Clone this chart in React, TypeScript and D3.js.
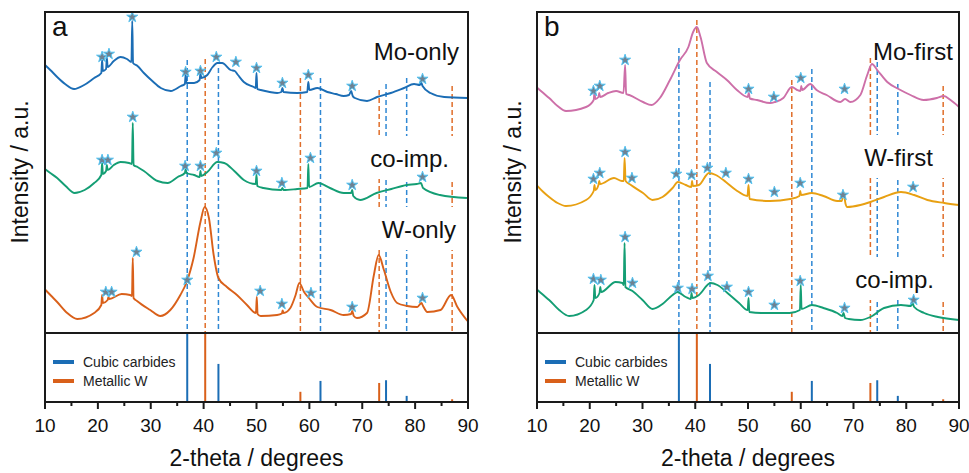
import React from 'react';
import * as d3 from 'd3';

type Pt = [number, number];

// ---------- Data (2-theta in degrees, intensity in a.u. with stacking offset) ----------
const moOnly: Pt[] = [
  [10.0, 268], [11.0, 263], [12.3, 256], [13.8, 249], [15.5, 244], [17.4, 248], [19.3, 255], [20.65, 260], [20.8, 273], [20.95, 262],
  [21.55, 264], [21.7, 275], [21.85, 266], [23.0, 272], [24.3, 276], [25.5, 274], [26.35, 271], [26.5, 312],
  [26.65, 270], [27.5, 267], [28.7, 260], [30.3, 252], [31.9, 245], [33.8, 242], [35.7, 247], [36.45, 249],
  [36.6, 258], [36.75, 250], [38.2, 250], [39.25, 253], [39.4, 260], [39.55, 255], [40.7, 258], [41.7, 266],
  [42.6, 270], [43.5, 270], [45.1, 263], [45.9, 262], [46.5, 258], [47.6, 251], [49.5, 246], [49.85, 245],
  [50.0, 260], [50.15, 244], [50.8, 243], [52.5, 241], [53.9, 240], [54.7, 241], [54.9, 245], [55.1, 241],
  [57.7, 240], [59.6, 241], [59.8, 251], [60.0, 243], [61.5, 245], [63.4, 241], [65.0, 239], [66.5, 237],
  [67.5, 238], [67.9, 242], [68.2, 237], [68.6, 235], [70.9, 232], [72.8, 236], [75.4, 240], [77.9, 245],
  [79.8, 249], [80.9, 248], [81.1, 251], [81.4, 247], [82.9, 240], [85.5, 236], [89.9, 235],
];
const coImpA: Pt[] = [
  [10.0, 164], [11.0, 160], [12.3, 155], [13.9, 147], [15.6, 140], [17.5, 143], [19.3, 150], [20.65, 158], [20.8, 170], [20.95, 159],
  [21.55, 162], [21.7, 168], [21.85, 163], [23.0, 168], [24.3, 171], [25.9, 170], [26.45, 169], [26.6, 210],
  [26.75, 168], [27.5, 166], [28.7, 162], [31.3, 152], [33.2, 150], [35.1, 156], [36.45, 160], [36.6, 164],
  [36.75, 160], [38.2, 158], [39.25, 156], [39.4, 162], [39.55, 157], [40.7, 161], [42.6, 171], [43.9, 170],
  [45.8, 162], [47.6, 153], [49.85, 149], [50.0, 158], [50.15, 147], [51.3, 145], [54.7, 143], [54.9, 145],
  [55.1, 143], [57.7, 144], [59.65, 145], [59.8, 169], [59.95, 146], [61.7, 150], [63.9, 145], [66.5, 140],
  [67.9, 140], [68.1, 143], [68.3, 137], [69.6, 133], [72.7, 140], [75.5, 144], [78.4, 148], [80.3, 149],
  [81.1, 150], [81.5, 145], [84.7, 138], [89.8, 135],
];
const wOnly: Pt[] = [
  [10.1, 43], [11.2, 37], [12.3, 31], [14.2, 20], [16.1, 14], [19.3, 20], [20.65, 28], [20.8, 38], [20.95, 30], [21.85, 33],
  [22.0, 36], [22.15, 34], [24.5, 39], [26.1, 38], [26.45, 37], [26.6, 75], [26.75, 35], [27.4, 32],
  [29.9, 23], [31.8, 17], [33.7, 23], [35.6, 38], [36.8, 51], [38.1, 75], [39.4, 111], [40.2, 126],
  [41.0, 115], [41.9, 78], [42.8, 55], [44.4, 46], [46.3, 38], [48.2, 28], [49.9, 20], [50.05, 36],
  [50.2, 19], [50.8, 17], [53.9, 18], [54.8, 19.5], [54.95, 22.5], [55.1, 20], [56.4, 25], [57.4, 38],
  [58.1, 50], [59.0, 41], [59.9, 35], [61.5, 26], [64.0, 23], [66.5, 18], [67.9, 19], [68.1, 22],
  [68.4, 17], [69.0, 15], [70.9, 20], [72.2, 58], [73.1, 78], [74.1, 63], [75.4, 41], [76.6, 30],
  [78.5, 27], [80.4, 26], [81.2, 30], [81.5, 27], [82.3, 21], [84.8, 23], [86.8, 38], [88.0, 26], [89.9, 12],
];
const moFirst: Pt[] = [
  [10.1, 245], [11.2, 240], [12.3, 235], [13.9, 227], [15.5, 222], [19.3, 226], [20.75, 233], [20.9, 241], [21.05, 234], [21.65, 236],
  [21.8, 240], [21.95, 236], [23.5, 240], [25.0, 242], [26.4, 240], [26.7, 268], [26.9, 239], [27.5, 238],
  [30.1, 231], [31.7, 228], [33.3, 235], [35.2, 253], [37.1, 273], [38.7, 286], [39.6, 301], [40.3, 306],
  [41.0, 296], [42.2, 270], [44.1, 261], [46.0, 253], [47.9, 243], [49.95, 236], [50.15, 240], [50.35, 234.5],
  [51.7, 233], [54.2, 230], [55.1, 231], [56.7, 235], [58.3, 246], [59.3, 243], [59.95, 242], [60.1, 247],
  [60.25, 243], [61.8, 249], [63.0, 243], [64.9, 238], [67.5, 231], [68.4, 234], [69.4, 231], [71.3, 238],
  [72.6, 258], [73.5, 269], [74.5, 263], [76.4, 251], [78.9, 243], [80.8, 238], [83.3, 233], [85.8, 235],
  [87.1, 237], [88.4, 233], [90.0, 226],
];
const wFirst: Pt[] = [
  [10.1, 147], [11.2, 141], [12.3, 136], [13.9, 130], [15.5, 127], [19.3, 133], [20.75, 142], [20.9, 148], [21.05, 143], [21.65, 148],
  [21.8, 152], [21.95, 149], [24.6, 155], [26.1, 152], [26.45, 152], [26.6, 175], [26.8, 152], [27.8, 148],
  [30.1, 140], [31.9, 133], [33.8, 136], [35.7, 145], [36.7, 151], [38.2, 148], [39.25, 146], [39.4, 152],
  [39.55, 147], [40.7, 148], [42.6, 160], [43.9, 158], [45.8, 151], [47.7, 143], [49.9, 137], [50.1, 148],
  [50.3, 134], [54.2, 132], [58.0, 134], [59.75, 137], [59.9, 142], [60.05, 138], [62.1, 140], [64.3, 137],
  [66.9, 132], [67.8, 132], [68.1, 141], [68.5, 129], [68.8, 126], [71.3, 128], [73.2, 131], [75.8, 136],
  [79.0, 141], [81.5, 138], [84.0, 133], [87.2, 130], [90.0, 128],
];
const coImpB: Pt[] = [
  [10.1, 43], [11.2, 38], [12.3, 33], [14.2, 23], [16.1, 17], [19.3, 23], [20.75, 33], [20.9, 48], [21.05, 35], [21.85, 40],
  [22.0, 46], [22.15, 41], [24.9, 51], [26.2, 50], [26.45, 48], [26.6, 90], [26.75, 46], [28.1, 42],
  [30.0, 33], [31.9, 24], [33.8, 29], [35.7, 38], [36.6, 41], [38.2, 36], [39.15, 34], [39.3, 40],
  [39.45, 35], [40.7, 38], [42.9, 50], [44.2, 48], [46.1, 40], [48.3, 30], [49.95, 23], [50.1, 35],
  [50.25, 21], [52.5, 20], [55.1, 20], [57.9, 20], [59.85, 23], [60.0, 48], [60.15, 24], [62.1, 28],
  [64.3, 25], [66.9, 20], [67.9, 17], [68.1, 20], [68.4, 15], [69.1, 14], [71.3, 13], [73.2, 16],
  [75.8, 25], [79.0, 28], [80.9, 27], [81.2, 29.5], [81.5, 26], [83.4, 20], [86.0, 16], [90.0, 13],
];

// Star markers (impurity reflections)
const moOnlyStars: Pt[] = [[20.8, 276], [22.1, 279], [26.5, 316], [36.6, 261], [39.4, 262], [42.4, 276], [46.1, 271], [50.0, 265], [54.9, 250], [59.8, 258], [68.1, 247], [81.4, 254]];
const coImpAStars: Pt[] = [[20.8, 173], [21.9, 173], [26.6, 216], [36.5, 167], [39.4, 167], [42.4, 180], [50.0, 162], [54.8, 150], [60.2, 175], [68.1, 148], [81.4, 156]];
const wOnlyStars: Pt[] = [[21.5, 41], [22.6, 41], [27.3, 81], [36.9, 53], [50.7, 42], [54.8, 29], [60.3, 40], [68.1, 26], [81.4, 35]];
const moFirstStars: Pt[] = [[20.7, 242], [21.9, 247], [26.7, 273], [50.1, 244], [54.9, 236], [60.0, 255], [68.3, 244]];
const wFirstStars: Pt[] = [[20.7, 154], [21.9, 160], [26.7, 181], [28.0, 155], [36.4, 159], [39.3, 158], [42.3, 165], [45.8, 160], [50.1, 154], [55.0, 141], [59.9, 150], [68.0, 138], [81.3, 146]];
const coImpBStars: Pt[] = [[20.7, 54], [22.1, 53], [26.7, 96], [28.1, 50], [36.7, 45], [39.4, 44], [42.4, 57], [46.0, 46], [50.1, 41], [55.0, 28], [59.9, 52], [68.3, 25], [81.4, 33]];

// Reference patterns
const cubicPos = [36.9, 42.8, 62.1, 74.5, 78.4];
const cubicInt = [100, 56, 31, 32, 9];
const wPos = [40.3, 58.3, 73.2, 87.0];
const wInt = [100, 15, 28, 4];
// top of the dashed guide lines (in intensity units of the upper panel)
const cubicGuideTopA = [273, 265, 255, 249, 255];
const wGuideTopA = [274, 255, 243, 247];
const cubicGuideTopB = [285, 251, 264, 271, 249];
const wGuideTopB = [313, 253, 275, 247];

const majorTicks = [10, 20, 30, 40, 50, 60, 70, 80, 90];
const minorTicks = [15, 25, 35, 45, 55, 65, 75, 85];

const legendLabels = ['Cubic carbides', 'Metallic W'];

// ---------- Styles ----------
const FONT = 'Liberation Sans, Arial, Helvetica, sans-serif';
const C_BLUE = '#1b6db5';
const C_ORANGE = '#d9601a';
const C_GREEN = '#149e74';
const C_PINK = '#cd6fa8';
const C_YELLOW = '#e8a012';
const C_BLUE_DASH = '#2f88d4';
const C_ORANGE_DASH = '#e06e2a';

const TOP = 12;
const DIV = 333;
const BOTTOM = 402;

interface Series { data: Pt[]; stars: Pt[]; color: string; label: string; labelX: number; labelY: number; box: boolean }

interface PanelProps {
  x0: number; x1: number; letter: string; series: Series[];
  cubicTop: number[]; wTop: number[]; ylabelX: number;
}

const Panel: React.FC<PanelProps> = ({ x0, x1, letter, series, cubicTop, wTop, ylabelX }) => {
  const x = d3.scaleLinear().domain([10, 90]).range([x0, x1]);
  const y = d3.scaleLinear().domain([0, 321]).range([DIV, TOP]);
  const ys = d3.scaleLinear().domain([0, 100]).range([BOTTOM, DIV + 1]);
  const line = d3.line<Pt>().x(d => x(d[0])).y(d => y(d[1])).curve(d3.curveMonotoneX);
  const star = d3.symbol().type(d3.symbolStar).size(38)();
  const cx = (x0 + x1) / 2;
  return (
    <g>
      <rect x={x0} y={TOP} width={x1 - x0} height={BOTTOM - TOP} fill="#fff" />
      {/* dashed guide lines */}
      {cubicPos.map((p, i) => (
        <line key={'cg' + i} x1={x(p)} x2={x(p)} y1={y(cubicTop[i])} y2={DIV} stroke={C_BLUE_DASH} strokeWidth={1.5} strokeDasharray="5,3" />
      ))}
      {wPos.map((p, i) => (
        <line key={'wg' + i} x1={x(p)} x2={x(p)} y1={y(wTop[i])} y2={DIV} stroke={C_ORANGE_DASH} strokeWidth={1.5} strokeDasharray="5,3" />
      ))}
      {/* labels */}
      {series.map((s, i) => (
        <g key={'lab' + i}>
          {s.box && <rect x={s.labelX - 92} y={s.labelY - 31} width={104} height={43} fill="#fff" />}
          <text x={s.labelX} y={s.labelY} textAnchor="end" fontFamily={FONT} fontSize={24} fill="#111">{s.label}</text>
        </g>
      ))}
      {/* curves */}
      {series.map((s, i) => (
        <path key={'c' + i} d={line(s.data) || ''} fill="none" stroke={s.color} strokeWidth={1.9} strokeLinejoin="round" />
      ))}
      {/* stars */}
      {series.map((s, i) => s.stars.map((p, j) => (
        <path key={'s' + i + '-' + j} d={star || ''} transform={`translate(${x(p[0])},${y(p[1])})`} fill="#6f8292" stroke="#52c2f2" strokeWidth={1} />
      )))}
      {/* reference sticks */}
      {cubicPos.map((p, i) => (
        <line key={'cs' + i} x1={x(p)} x2={x(p)} y1={ys(cubicInt[i])} y2={BOTTOM} stroke={C_BLUE} strokeWidth={2} />
      ))}
      {wPos.map((p, i) => (
        <line key={'ws' + i} x1={x(p)} x2={x(p)} y1={ys(wInt[i])} y2={BOTTOM} stroke={C_ORANGE} strokeWidth={2} />
      ))}
      {/* legend */}
      {legendLabels.map((l, i) => (
        <g key={'lg' + i} transform={`translate(${x0 + 8},${362 + i * 19})`}>
          <line x1={0} x2={21} y1={0} y2={0} stroke={i === 0 ? C_BLUE : C_ORANGE} strokeWidth={4} />
          <text x={30} y={5} fontFamily={FONT} fontSize={14} fill="#222">{l}</text>
        </g>
      ))}
      {/* frame */}
      <rect x={x0} y={TOP} width={x1 - x0} height={BOTTOM - TOP} fill="none" stroke="#1a1a1a" strokeWidth={2} />
      <line x1={x0} x2={x1} y1={DIV} y2={DIV} stroke="#1a1a1a" strokeWidth={2} />
      {/* ticks */}
      {majorTicks.map(t => (
        <g key={'mt' + t}>
          <line x1={x(t)} x2={x(t)} y1={BOTTOM} y2={BOTTOM + 7} stroke="#1a1a1a" strokeWidth={2} />
          <text x={x(t)} y={432} textAnchor="middle" fontFamily={FONT} fontSize={19} fill="#111">{t}</text>
        </g>
      ))}
      {minorTicks.map(t => (
        <line key={'nt' + t} x1={x(t)} x2={x(t)} y1={BOTTOM} y2={BOTTOM + 4} stroke="#1a1a1a" strokeWidth={2} />
      ))}
      <text x={cx} y={466} textAnchor="middle" fontFamily={FONT} fontSize={23} fill="#111">2-theta / degrees</text>
      <text transform={`translate(${ylabelX},172) rotate(-90)`} textAnchor="middle" fontFamily={FONT} fontSize={23} fill="#111">Intensity / a.u.</text>
      <text x={x0 + 7} y={36} fontFamily={FONT} fontSize={28} fill="#111">{letter}</text>
    </g>
  );
};

export default function App() {
  const seriesA: Series[] = [
    { data: moOnly, stars: moOnlyStars, color: C_BLUE, label: 'Mo-only', labelX: 459, labelY: 60, box: false },
    { data: coImpA, stars: coImpAStars, color: C_GREEN, label: 'co-imp.', labelX: 449, labelY: 167, box: true },
    { data: wOnly, stars: wOnlyStars, color: C_ORANGE, label: 'W-only', labelX: 456, labelY: 238, box: true },
  ];
  const seriesB: Series[] = [
    { data: moFirst, stars: moFirstStars, color: C_PINK, label: 'Mo-first', labelX: 953, labelY: 60, box: false },
    { data: wFirst, stars: wFirstStars, color: C_YELLOW, label: 'W-first', labelX: 933, labelY: 166, box: true },
    { data: coImpB, stars: coImpBStars, color: C_GREEN, label: 'co-imp.', labelX: 934, labelY: 288, box: true },
  ];
  return (
    <svg width={969} height={473} style={{ position: 'absolute', left: 0, top: 0, background: '#fff' }}>
      <rect width={969} height={473} fill="#fff" />
      <Panel x0={45} x1={468} letter="a" series={seriesA} cubicTop={cubicGuideTopA} wTop={wGuideTopA} ylabelX={28} />
      <Panel x0={537} x1={959} letter="b" series={seriesB} cubicTop={cubicGuideTopB} wTop={wGuideTopB} ylabelX={521} />
    </svg>
  );
}
